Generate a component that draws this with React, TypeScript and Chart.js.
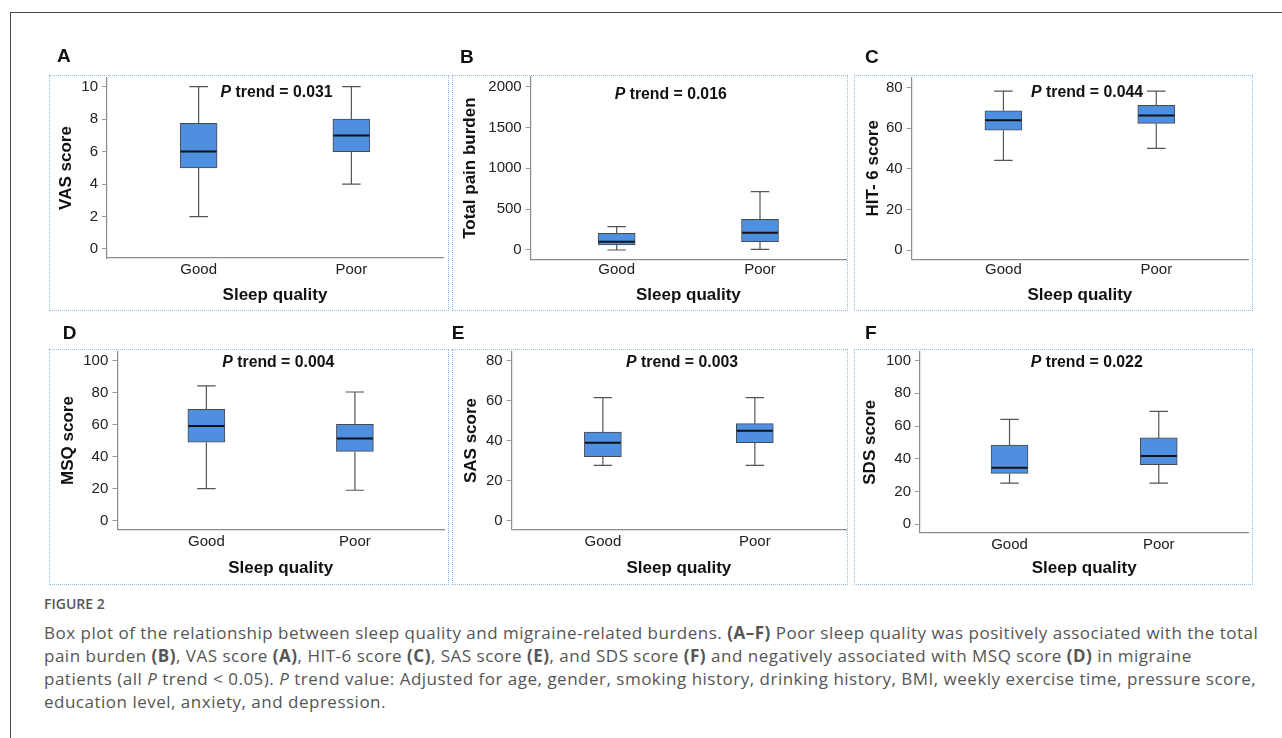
import React, { useEffect, useRef } from "react";
import { Chart, registerables } from "chart.js";

Chart.register(...registerables);

// ---------- data ----------
const categories = ["Good", "Poor"];
const xAxisTitle = "Sleep quality";

// box statistics: [min, q1, median, q3, max]
const vasGood = [2, 5, 6, 7.75, 10];
const vasPoor = [4, 6, 7, 8, 10];
const painGood = [0, 61, 102, 204, 286];
const painPoor = [8, 102, 212, 375, 714];
const hitGood = [44.2, 59, 63.9, 68.6, 78.3];
const hitPoor = [50.1, 62.4, 66.3, 71.3, 78.3];
const msqGood = [20, 49, 59.2, 69.6, 84.2];
const msqPoor = [19, 43.3, 51.3, 60.2, 80.4];
const sasGood = [27.7, 32, 39, 44.3, 61.5];
const sasPoor = [27.7, 39, 45, 48.5, 61.5];
const sdsGood = [25.1, 31, 34.5, 48.4, 64.1];
const sdsPoor = [25.1, 36.3, 41.6, 52.7, 69];

const vasTicks = [0, 2, 4, 6, 8, 10];
const painTicks = [0, 500, 1000, 1500, 2000];
const hitTicks = [0, 20, 40, 60, 80];
const msqTicks = [0, 20, 40, 60, 80, 100];
const sasTicks = [0, 20, 40, 60, 80];
const sdsTicks = [0, 20, 40, 60, 80, 100];

const panelLetters = ["A", "B", "C", "D", "E", "F"];
const yTitles = ["VAS score", "Total pain burden", "HIT- 6 score", "MSQ score", "SAS score", "SDS score"];
const pTrendValues = ["0.031", "0.016", "0.044", "0.004", "0.003", "0.022"];
const seriesGood = [vasGood, painGood, hitGood, msqGood, sasGood, sdsGood];
const seriesPoor = [vasPoor, painPoor, hitPoor, msqPoor, sasPoor, sdsPoor];
const seriesTicks = [vasTicks, painTicks, hitTicks, msqTicks, sasTicks, sdsTicks];

// ---------- layout (page pixel coordinates) ----------
type Layout = {
  box: [number, number, number, number];
  area: { l: number; r: number; t: number; b: number };
  yTitleX: number;
  xLabelY: number;
  xTitleY: number;
  yRange: [number, number];
  pX: number;
  pY: number;
  letter: [number, number];
};

const layouts: Layout[] = [
  { box: [49, 75, 400, 236], area: { l: 107, r: 443, t: 78, b: 258 }, yTitleX: 66.7, xLabelY: 270, xTitleY: 295, yRange: [-0.555, 10.536], pX: 0.51, pY: 91.7, letter: [57, 48] },
  { box: [452, 75, 396, 236], area: { l: 530.7, r: 846, t: 77, b: 259.3 }, yTitleX: 470, xLabelY: 270, xTitleY: 295, yRange: [-114, 2119], pX: 0.377, pY: 93.3, letter: [460, 49] },
  { box: [854, 75, 399, 236], area: { l: 911.7, r: 1248, t: 77.3, b: 259.3 }, yTitleX: 873.3, xLabelY: 270, xTitleY: 295, yRange: [-4.58, 85.1], pX: 0.547, pY: 91, letter: [865, 49] },
  { box: [49, 349, 400, 236], area: { l: 117.3, r: 444, t: 351.7, b: 529.3 }, yTitleX: 68.3, xLabelY: 541.7, xTitleY: 568.3, yRange: [-5.4, 105.6], pX: 0.484, pY: 361.7, letter: [62.7, 325] },
  { box: [452, 349, 396, 236], area: { l: 511.7, r: 846, t: 351.7, b: 529.3 }, yTitleX: 471.7, xLabelY: 541.7, xTitleY: 568.3, yRange: [-4.3, 84.5], pX: 0.521, pY: 361.7, letter: [451.7, 325] },
  { box: [854, 349, 399, 236], area: { l: 920, r: 1248.3, t: 351.7, b: 532.7 }, yTitleX: 870.7, xLabelY: 545, xTitleY: 568.3, yRange: [-5.3, 105.5], pX: 0.517, pY: 361.7, letter: [865, 325] },
];

const FONT = '"Liberation Sans", Arial, Helvetica, sans-serif';
const BOX_FILL = "#4f8fe0";
const BOX_EDGE = "#4a4a4a";
const WHISKER = "#555555";
const BAR_W = 37;
const EXTRA_TOP = 20;

function BoxPanel({ idx }: { idx: number }) {
  const ref = useRef<HTMLCanvasElement | null>(null);
  const L = layouts[idx];
  const [bx, by, bw, bh] = L.box;
  const canvasTop = by - EXTRA_TOP;
  const canvasH = bh + EXTRA_TOP;
  const canvasBottom = by + bh;

  useEffect(() => {
    if (!ref.current) return;
    const stats = [seriesGood[idx], seriesPoor[idx]];
    const ticks = seriesTicks[idx];
    const titleLH = 17 * 1.2;
    const tickLH = 15 * 1.2;

    const boxPlugin = {
      id: "boxWhiskers" + idx,
      afterDatasetsDraw(chart: any) {
        const ctx = chart.ctx;
        const xs = chart.scales.x;
        const ys = chart.scales.y;
        ctx.save();
        stats.forEach((s, i) => {
          const cx = xs.getPixelForValue(i);
          const [mn, q1, med, q3, mx] = s;
          const cap = BAR_W / 2;
          ctx.strokeStyle = WHISKER;
          ctx.lineWidth = 1.2;
          ctx.beginPath();
          ctx.moveTo(cx, ys.getPixelForValue(q3));
          ctx.lineTo(cx, ys.getPixelForValue(mx));
          ctx.moveTo(cx - cap / 2, ys.getPixelForValue(mx));
          ctx.lineTo(cx + cap / 2, ys.getPixelForValue(mx));
          ctx.moveTo(cx, ys.getPixelForValue(q1));
          ctx.lineTo(cx, ys.getPixelForValue(mn));
          ctx.moveTo(cx - cap / 2, ys.getPixelForValue(mn));
          ctx.lineTo(cx + cap / 2, ys.getPixelForValue(mn));
          ctx.stroke();
          ctx.strokeStyle = "#111111";
          ctx.lineWidth = 2;
          ctx.beginPath();
          ctx.moveTo(cx - BAR_W / 2 + 0.5, ys.getPixelForValue(med));
          ctx.lineTo(cx + BAR_W / 2 - 0.5, ys.getPixelForValue(med));
          ctx.stroke();
        });
        // P trend annotation
        const fs = 15.8;
        const italicFont = `italic bold ${fs}px ${FONT}`;
        const boldFont = `bold ${fs}px ${FONT}`;
        const t1 = "P";
        const t2 = " trend = " + pTrendValues[idx];
        ctx.font = italicFont;
        const w1 = ctx.measureText(t1).width;
        ctx.font = boldFont;
        const w2 = ctx.measureText(t2).width;
        const centerX = xs.getPixelForValue(L.pX);
        const baseY = L.pY - canvasTop + fs * 0.358;
        const startX = centerX - (w1 + w2) / 2;
        ctx.fillStyle = "#111111";
        ctx.textBaseline = "alphabetic";
        ctx.textAlign = "left";
        ctx.font = italicFont;
        ctx.fillText(t1, startX, baseY);
        ctx.font = boldFont;
        ctx.fillText(t2, startX + w1, baseY);
        ctx.restore();
      },
    };

    const chart = new Chart(ref.current, {
      type: "bar",
      data: {
        datasets: [
          {
            data: stats.map((s, i) => ({ x: i, y: [s[1], s[3]] })) as any,
            backgroundColor: BOX_FILL,
            borderColor: BOX_EDGE,
            borderWidth: 1,
            borderSkipped: false,
            barThickness: BAR_W,
          },
        ],
      },
      options: {
        animation: false,
        responsive: false,
        maintainAspectRatio: false,
        devicePixelRatio: 1,
        layout: {
          padding: {
            top: L.area.t - canvasTop,
            right: bx + bw - L.area.r,
            left: 0,
            bottom: 0,
          },
        },
        plugins: { legend: { display: false }, tooltip: { enabled: false } },
        scales: {
          x: {
            type: "linear",
            min: -0.6,
            max: 1.6,
            offset: false,
            grid: { display: false, drawTicks: false, tickLength: 0, offset: false },
            border: { display: true, color: "#8c8c8c", width: 1.2 },
            afterBuildTicks: (s: any) => {
              s.ticks = categories.map((_, i) => ({ value: i }));
            },
            afterFit: (s: any) => {
              s.height = canvasBottom - L.area.b;
            },
            ticks: {
              callback: (v: any) => categories[Math.round(Number(v))] ?? "",
              color: "#222222",
              font: { family: FONT, size: 15 },
              padding: L.xLabelY - L.area.b - tickLH / 2,
              maxRotation: 0,
              autoSkip: false,
            },
            title: {
              display: true,
              text: xAxisTitle,
              color: "#111111",
              font: { family: FONT, size: 17, weight: "bold" },
              padding: { top: 0, bottom: canvasBottom - L.xTitleY - titleLH / 2 },
            },
          },
          y: {
            type: "linear",
            min: L.yRange[0],
            max: L.yRange[1],
            grid: { display: true, drawOnChartArea: false, drawTicks: true, tickLength: 5, color: "#9a9a9a" },
            border: { display: true, color: "#8c8c8c", width: 1.2 },
            afterBuildTicks: (s: any) => {
              s.ticks = ticks.map((v) => ({ value: v }));
            },
            afterFit: (s: any) => {
              s.width = L.area.l - bx;
            },
            ticks: {
              callback: (v: any) => String(v),
              color: "#222222",
              font: { family: FONT, size: 15 },
              padding: 4,
              autoSkip: false,
            },
            title: {
              display: true,
              text: yTitles[idx],
              color: "#111111",
              font: { family: FONT, size: 17, weight: "bold" },
              padding: { top: L.yTitleX - bx - titleLH / 2, bottom: 0 },
            },
          },
        },
      } as any,
      plugins: [boxPlugin],
    });
    return () => chart.destroy();
  }, [idx]);

  return (
    <>
      <div
        style={{
          position: "absolute",
          left: bx,
          top: by,
          width: bw - 2,
          height: bh - 2,
          border: "1px dotted #8fbce8",
        }}
      />
      <canvas
        ref={ref}
        width={bw}
        height={canvasH}
        style={{ position: "absolute", left: bx, top: canvasTop, width: bw, height: canvasH }}
      />
      <div
        style={{
          position: "absolute",
          left: L.letter[0],
          top: L.letter[1] - 2.5,
          font: `bold 19px ${FONT}`,
          lineHeight: "19px",
          color: "#111",
        }}
      >
        {panelLetters[idx]}
      </div>
    </>
  );
}

export default function App() {
  const capFont = '"Open Sans", "Noto Sans", sans-serif';
  return (
    <div
      style={{
        position: "absolute",
        left: 0,
        top: 0,
        width: 1282,
        height: 738,
        overflow: "hidden",
        background: "#ffffff",
      }}
    >
      <div
        style={{
          position: "absolute",
          left: 10,
          top: 12,
          width: 1400,
          height: 900,
          border: "1px solid #444",
        }}
      />
      {layouts.map((_, i) => (
        <BoxPanel key={i} idx={i} />
      ))}
      <div
        style={{
          position: "absolute",
          left: 44,
          top: 596,
          font: `600 14px ${capFont}`,
          lineHeight: "16px",
          color: "#555",
        }}
      >
        FIGURE 2
      </div>
      <div
        style={{
          position: "absolute",
          left: 44,
          top: 621,
          font: `400 17px ${capFont}`,
          lineHeight: "23px",
          letterSpacing: "0.5px",
          color: "#555",
          whiteSpace: "nowrap",
        }}
      >
        Box plot of the relationship between sleep quality and migraine-related burdens. <b>(A–F)</b> Poor sleep quality was positively associated with the total
        <br />
        pain burden <b>(B)</b>, VAS score <b>(A)</b>, HIT-6 score <b>(C)</b>, SAS score <b>(E)</b>, and SDS score <b>(F)</b> and negatively associated with MSQ score <b>(D)</b> in migraine
        <br />
        patients (all <i>P</i> trend &lt; 0.05). <i>P</i> trend value: Adjusted for age, gender, smoking history, drinking history, BMI, weekly exercise time, pressure score,
        <br />
        education level, anxiety, and depression.
      </div>
    </div>
  );
}
